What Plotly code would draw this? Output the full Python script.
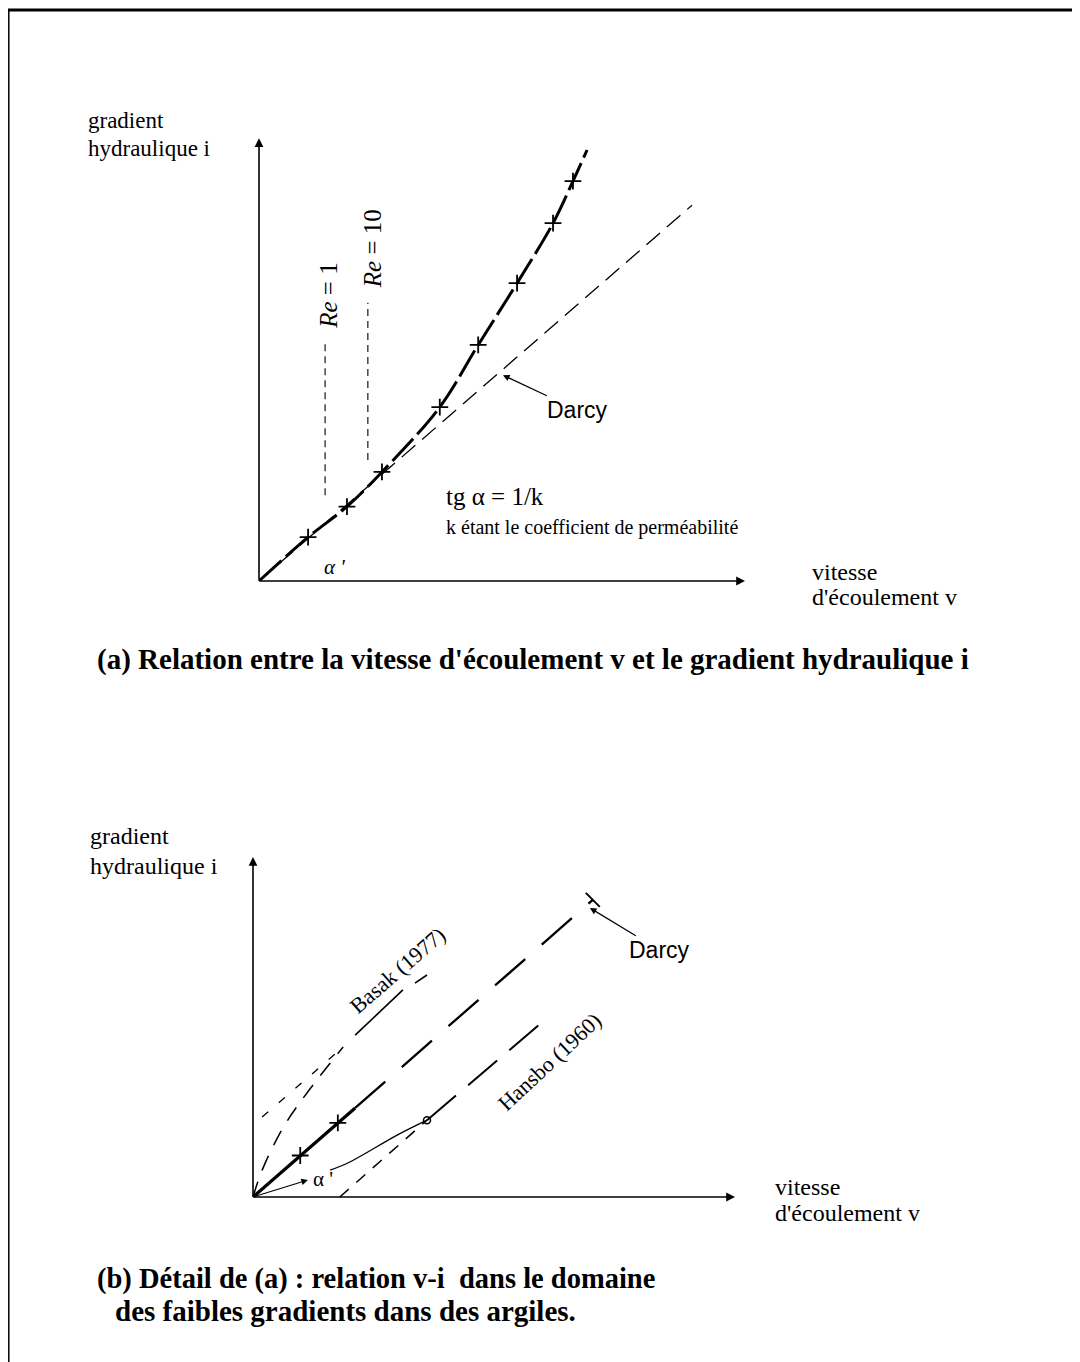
import plotly.graph_objects as go

# the page puts the plot 8 px in from the top-left corner, so the figure is 8 px smaller
OFF = 8
W, H = 1080 - OFF, 1362 - OFF

# ---------------- panel (a) : v - i relation (arbitrary units) ----------------
a_test_v = [1.01, 1.81, 2.53, 3.72, 4.51, 5.31, 6.05, 6.46]
a_test_i = [1.00, 1.70, 2.49, 3.97, 5.39, 6.80, 8.17, 9.13]
a_curve_v = [0, 1.01, 1.81, 2.53, 3.72, 4.51, 5.31, 6.05, 6.46, 6.75]
a_curve_i = [0, 1.00, 1.70, 2.49, 3.97, 5.39, 6.80, 8.17, 9.13, 9.84]
a_darcy_v = [0, 8.91]
a_darcy_i = [0, 8.58]
re1_v = [1.36, 1.36]
re1_i = [1.96, 5.50]
re10_v = [2.24, 2.24]
re10_i = [2.76, 6.35]

# ---------------- panel (b) : low gradients in clays ----------------
b_darcy_solid_v = [0, 2.12]
b_darcy_solid_i = [0, 2.62]
b_darcy_dash_v = [2.12, 7.05]
b_darcy_dash_i = [2.62, 8.74]
b_test_v = [0.98, 1.76]
b_test_i = [1.22, 2.18]
basak_low_v = [0, 0.19, 0.62, 1.12, 1.87]
basak_low_i = [0, 0.79, 2.03, 3.06, 4.41]
basak_up_v = [0.19, 1.87]
basak_up_i = [2.35, 4.41]
basak_lin_v = [2.12, 3.11, None, 3.36, 3.61]
basak_lin_i = [4.76, 6.09, None, 6.29, 6.53]
hansbo_curve_v = [1.60, 2.01, 2.99, 3.61]
hansbo_curve_i = [0.79, 1.03, 1.82, 2.26]
hansbo_lin_v = [3.61, 6.10]
hansbo_lin_i = [2.26, 5.26]
hansbo_ext_v = [1.80, 3.61]
hansbo_ext_i = [0.0, 2.26]

# pixel placement (page coords) of each panel origin and scale (px per unit)
PA = dict(ox=259, oy=581, sx=48.6, sy=43.8)
PB = dict(ox=253, oy=1197, sx=48.2, sy=34.0)
XR = [-1, 11]
YR = [-1, 11]


def domains(p):
    ox, oy = p["ox"] - OFF, p["oy"] - OFF
    dx = [(ox + XR[0] * p["sx"]) / W, (ox + XR[1] * p["sx"]) / W]
    dy = [1 - (oy - YR[0] * p["sy"]) / H, 1 - (oy - YR[1] * p["sy"]) / H]
    return dx, dy


def paper(px, py):
    return (px - OFF) / W, 1 - (py - OFF) / H


SERIF = "Liberation Serif"
SANS = "Liberation Sans"
K = "black"

fig = go.Figure()


def line(xs, ys, ax, width=1.5, dash="solid", shape="linear"):
    fig.add_trace(go.Scatter(x=xs, y=ys, mode="lines", xaxis=ax[0], yaxis=ax[1],
                             line=dict(color=K, width=width, dash=dash, shape=shape),
                             showlegend=False, hoverinfo="skip"))


def marks(xs, ys, ax, symbol="cross-thin", size=12, width=1.8):
    fig.add_trace(go.Scatter(x=xs, y=ys, mode="markers", xaxis=ax[0], yaxis=ax[1],
                             marker=dict(symbol=symbol, size=size, color=K,
                                         line=dict(color=K, width=width)),
                             showlegend=False, hoverinfo="skip"))


A = ("x", "y")
B = ("x2", "y2")

# panel (a)
line(a_darcy_v, a_darcy_i, A, width=1.3, dash="18px,9px")
line(a_curve_v, a_curve_i, A, width=3, dash="30px,6px", shape="spline")
marks(a_test_v, a_test_i, A)
line(re1_v, re1_i, A, width=1.1, dash="7px,5px")
line(re10_v, re10_i, A, width=1.1, dash="7px,5px")

# panel (b)
line(b_darcy_solid_v, b_darcy_solid_i, B, width=3.2)
line(b_darcy_dash_v, b_darcy_dash_i, B, width=2.3, dash="40px,22px")
marks(b_test_v, b_test_i, B)
marks([b_darcy_dash_v[-1]], [b_darcy_dash_i[-1]], B, symbol="line-nw", size=14, width=2)
line(basak_low_v, basak_low_i, B, width=1.5, dash="16px,12px", shape="spline")
line(basak_up_v, basak_up_i, B, width=1.3, dash="8px,14px")
line(basak_lin_v, basak_lin_i, B, width=1.6)
line(hansbo_curve_v, hansbo_curve_i, B, width=1.3, shape="spline")
line(hansbo_lin_v, hansbo_lin_i, B, width=2, dash="38px,16px")
line(hansbo_ext_v, hansbo_ext_i, B, width=1.5, dash="12px,10px")
marks([hansbo_curve_v[-1]], [hansbo_curve_i[-1]], B, symbol="circle-open", size=7, width=1.5)

dxa, dya = domains(PA)
dxb, dyb = domains(PB)
ann = []


def arrow(ax, x, y, x0, y0, width=1.6, head=2, text=""):
    ann.append(dict(xref=ax[0], yref=ax[1], axref=ax[0], ayref=ax[1], x=x, y=y, ax=x0, ay=y0,
                    text=text, showarrow=True, arrowhead=head, arrowsize=1.1,
                    arrowwidth=width, arrowcolor=K))


def dtext(ax, x, y, text, size=18, family=SERIF, angle=0, xanchor="center"):
    ann.append(dict(xref=ax[0], yref=ax[1], x=x, y=y, text=text, showarrow=False,
                    textangle=angle, xanchor=xanchor, yanchor="middle",
                    font=dict(family=family, size=size, color=K)))


def ptext(px, py, text, size=24, bold=False):
    x, y = paper(px, py)
    ann.append(dict(xref="paper", yref="paper", x=x, y=y, text=f"<b>{text}</b>" if bold else text,
                    showarrow=False, xanchor="left", yanchor="middle", align="left",
                    font=dict(family=SERIF, size=size, color=K)))


# axes drawn as arrows
arrow(A, 10.0, 0, 0, 0)
arrow(A, 0, 10.11, 0, 0)
arrow(B, 10.0, 0, 0, 0)
arrow(B, 0, 10.0, 0, 0)

# panel (a) texts
dtext(A, 1.44, 6.51, "<i>Re</i> = 1", size=25, angle=-90)
dtext(A, 2.33, 7.58, "<i>Re</i> = 10", size=25, angle=-90)
dtext(A, 3.81, 1.92, "tg α = 1/k", size=25, xanchor="left")
dtext(A, 3.81, 1.23, "k étant le coefficient de perméabilité", size=20, xanchor="left")
dtext(A, 1.56, 0.32, "<i>α '</i>", size=21)
ann.append(dict(xref="x", yref="y", axref="x", ayref="y", x=5.02, y=4.70, ax=6.56, ay=3.90,
                text="Darcy", showarrow=True, arrowhead=2, arrowsize=1.1, arrowwidth=1.2,
                arrowcolor=K, font=dict(family=SANS, size=23, color=K)))
ptext(86, 120, "gradient", size=23)
ptext(86, 148, "hydraulique i", size=23)
ptext(810, 572, "vitesse")
ptext(810, 597, "d'écoulement v")
ptext(95, 660, "(a) Relation entre la vitesse d'écoulement v et le gradient hydraulique i",
      size=29, bold=True)

# panel (b) texts
dtext(B, 3.00, 6.65, "Basak (1977)", size=22, angle=-41)
dtext(B, 6.16, 3.98, "Hansbo (1960)", size=22, angle=-43)
dtext(B, 1.45, 0.52, "α '", size=21)
arrow(B, 1.14, 0.50, 0, 0, width=1.2)
ann.append(dict(xref="x2", yref="y2", axref="x2", ayref="y2", x=6.99, y=8.50, ax=8.44, ay=7.26,
                text="Darcy", showarrow=True, arrowhead=2, arrowsize=1.1, arrowwidth=1.2,
                arrowcolor=K, font=dict(family=SANS, size=23, color=K)))
ptext(88, 836, "gradient", size=24)
ptext(88, 866, "hydraulique i", size=24)
ptext(773, 1187, "vitesse")
ptext(773, 1213, "d'écoulement v")
ptext(95, 1279, "(b) Détail de (a) : relation v-i  dans le domaine", size=28.5, bold=True)
ptext(113, 1311, "des faibles gradients dans des argiles.", size=29, bold=True)

# page frame (top and left edges of the scanned box)
shapes = [
    dict(type="line", xref="paper", yref="paper", x0=0, x1=1, y0=1 - 2 / H, y1=1 - 2 / H,
         line=dict(color=K, width=3)),
    dict(type="line", xref="paper", yref="paper", x0=0.8 / W, x1=0.8 / W, y0=0, y1=1 - 2 / H,
         line=dict(color=K, width=1.5)),
]

fig.update_layout(
    width=W, height=H, margin=dict(l=0, r=0, t=0, b=0),
    paper_bgcolor="white", plot_bgcolor="white", showlegend=False,
    xaxis=dict(domain=dxa, range=XR, visible=False, anchor="y"),
    yaxis=dict(domain=dya, range=YR, visible=False, anchor="x"),
    xaxis2=dict(domain=dxb, range=XR, visible=False, anchor="y2"),
    yaxis2=dict(domain=dyb, range=YR, visible=False, anchor="x2"),
    annotations=ann, shapes=shapes,
)

fig.write_html("out.html")
